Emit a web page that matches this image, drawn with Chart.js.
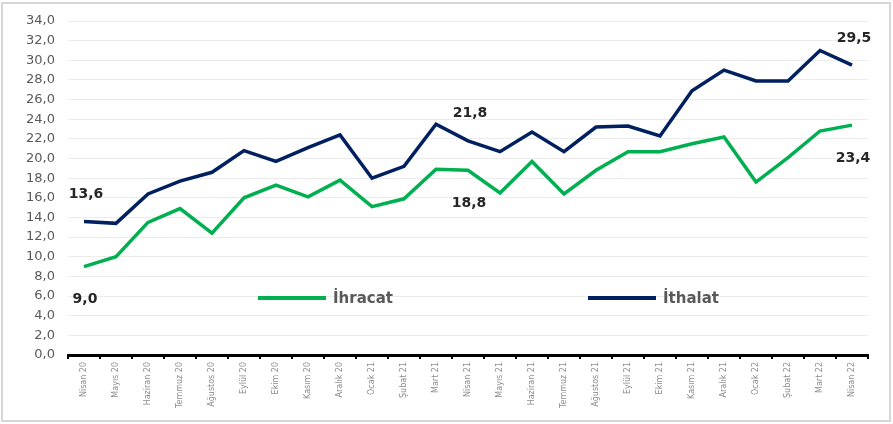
<!DOCTYPE html>
<html>
<head>
<meta charset="utf-8">
<script src="https://cdn.jsdelivr.net/npm/chart.js@4/dist/chart.umd.min.js"></script>
<style>
  html, body { margin: 0; padding: 0; background: #ffffff; }
  #wrap { position: relative; width: 893px; height: 424px; }
  canvas { display: block; }
</style>
</head>
<body>
<div id="wrap"><canvas id="c" width="893" height="424"></canvas></div>
<script>
const categories = ["Nisan 20","Mayıs 20","Haziran 20","Temmuz 20","Ağustos 20","Eylül 20","Ekim 20","Kasım 20","Aralık 20","Ocak 21","Şubat 21","Mart 21","Nisan 21","Mayıs 21","Haziran 21","Temmuz 21","Ağustos 21","Eylül 21","Ekim 21","Kasım 21","Aralık 21","Ocak 22","Şubat 22","Mart 22","Nisan 22"];
const ihracat = [9.0,10.0,13.5,14.9,12.4,16.0,17.3,16.1,17.8,15.1,15.9,18.9,18.8,16.5,19.7,16.4,18.8,20.7,20.7,21.5,22.2,17.6,20.1,22.8,23.4];
const ithalat = [13.6,13.4,16.4,17.7,18.6,20.8,19.7,21.1,22.4,18.0,19.2,23.5,21.8,20.7,22.7,20.7,23.2,23.3,22.3,26.9,29.0,27.9,27.9,31.0,29.5];
const seriesNames = ["İhracat","İthalat"];
const labelledIndices = [0, 12, 24];
const yTicks = { min: 0, max: 34, step: 2 };

const fmt = v => v.toFixed(1).replace('.', ',');

const COLORS = { ihracat: '#00b050', ithalat: '#002060' };

const annotationPlugin = {
  id: 'annot',
  afterDatasetsDraw(chart) {
    const ctx = chart.ctx;
    const xs = chart.scales.x, ys = chart.scales.y;
    ctx.save();
    ctx.font = 'bold 14px "DejaVu Sans", sans-serif';
    ctx.fillStyle = '#262626';
    ctx.textAlign = 'center';
    ctx.textBaseline = 'middle';
    labelledIndices.forEach(i => {
      const x = xs.getPixelForValue(i);
      ctx.fillText(fmt(ithalat[i]), x + 2, ys.getPixelForValue(ithalat[i]) - 27);
      ctx.fillText(fmt(ihracat[i]), x + 1, ys.getPixelForValue(ihracat[i]) + 33);
    });
    // legend inside the plot
    const ca = chart.chartArea;
    const ly = ca.top + 277;
    const items = [
      { name: seriesNames[0], color: COLORS.ihracat, x: ca.left + 190 },
      { name: seriesNames[1], color: COLORS.ithalat, x: ca.left + 520 }
    ];
    ctx.font = 'bold 15px "DejaVu Sans", sans-serif';
    ctx.textAlign = 'left';
    items.forEach(it => {
      ctx.strokeStyle = it.color;
      ctx.lineWidth = 4;
      ctx.beginPath();
      ctx.moveTo(it.x, ly);
      ctx.lineTo(it.x + 68, ly);
      ctx.stroke();
      ctx.fillStyle = '#595959';
      ctx.fillText(it.name, it.x + 75, ly + 1);
    });
    ctx.restore();
  },
  afterDraw(chart) {
    const ctx = chart.ctx;
    ctx.save();
    ctx.strokeStyle = '#d6d6d6';
    ctx.lineWidth = 2;
    ctx.strokeRect(2, 3, 888, 418);
    ctx.restore();
  }
};

new Chart(document.getElementById('c'), {
  type: 'line',
  data: {
    labels: categories,
    datasets: [
      { label: seriesNames[0], data: ihracat, borderColor: COLORS.ihracat, backgroundColor: COLORS.ihracat, borderWidth: 3.5, pointRadius: 0, tension: 0 },
      { label: seriesNames[1], data: ithalat, borderColor: COLORS.ithalat, backgroundColor: COLORS.ithalat, borderWidth: 3.5, pointRadius: 0, tension: 0 }
    ]
  },
  options: {
    responsive: false,
    animation: false,
    devicePixelRatio: 1,
    layout: { padding: { top: 21, right: 25, left: 0, bottom: 0 } },
    plugins: { legend: { display: false }, tooltip: { enabled: false } },
    scales: {
      x: {
        offset: true,
        grid: { display: true, drawOnChartArea: false, drawTicks: true, tickLength: 4, color: '#000000', lineWidth: 2, offset: true },
        border: { display: true, color: '#000000', width: 3 },
        ticks: { color: '#8c8c8c', font: { family: '"DejaVu Sans", sans-serif', size: 8 }, minRotation: 90, maxRotation: 90, autoSkip: false, padding: 3 },
        afterFit(s) { s.height = 69; }
      },
      y: {
        min: yTicks.min, max: yTicks.max,
        grid: { color: '#ececec', lineWidth: 1, drawTicks: false },
        border: { display: false },
        ticks: { stepSize: yTicks.step, color: '#595959', padding: 13, font: { family: '"DejaVu Sans", sans-serif', size: 13 }, callback: v => fmt(v) },
        afterFit(s) { s.width = 68; }
      }
    }
  },
  plugins: [annotationPlugin]
});
</script>
</body>
</html>
